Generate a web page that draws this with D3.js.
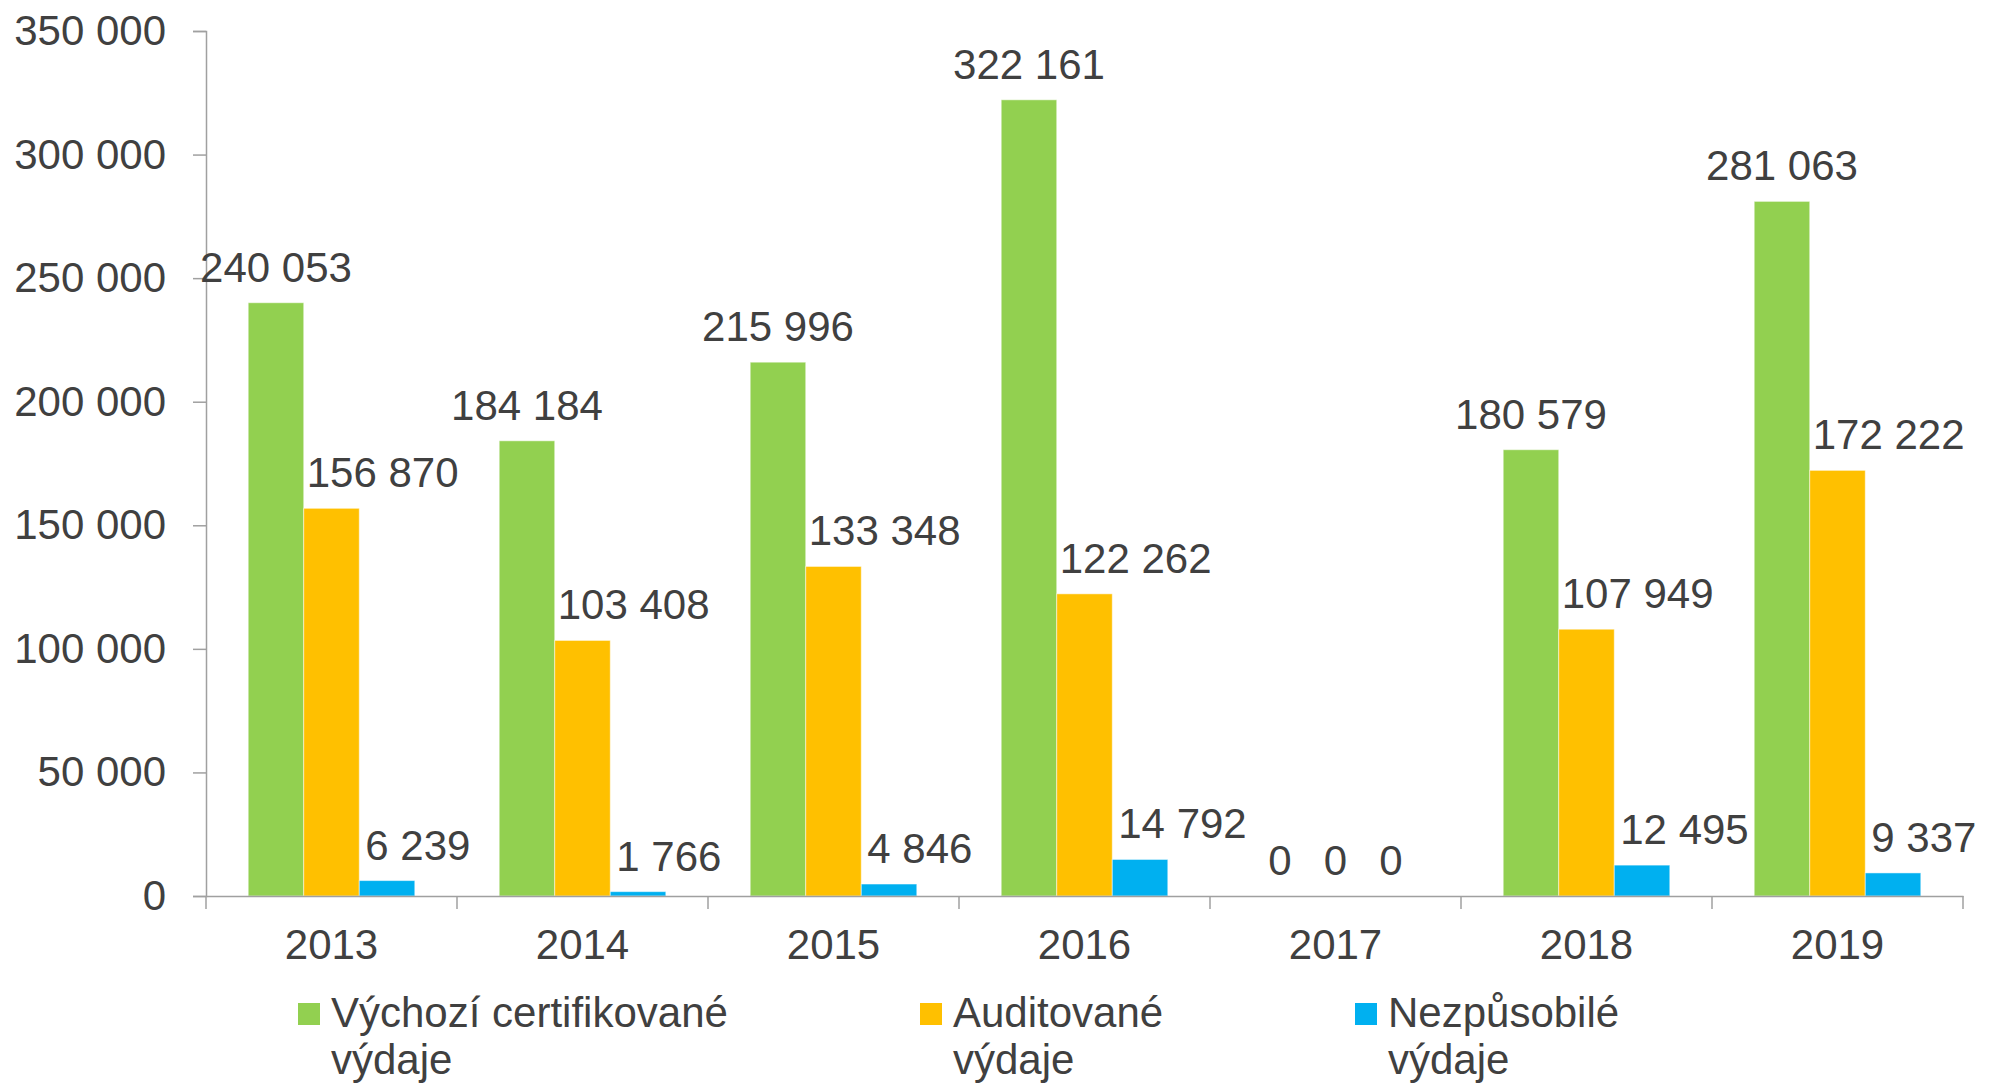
<!DOCTYPE html>
<html>
<head>
<meta charset="utf-8">
<script src="https://cdn.jsdelivr.net/npm/d3@7"></script>
<style>
  html, body { margin: 0; padding: 0; background: #ffffff; }
  svg { display: block; font-family: "Liberation Sans", Arial, sans-serif; }
</style>
</head>
<body>
<svg id="chart" width="2004" height="1084"></svg>
<script>
// ---- data ----
const years = ["2013", "2014", "2015", "2016", "2017", "2018", "2019"];
const seriesNames = ["Výchozí certifikované výdaje", "Auditované výdaje", "Nezpůsobilé výdaje"];
const certified = [240053, 184184, 215996, 322161, 0, 180579, 281063];
const audited   = [156870, 103408, 133348, 122262, 0, 107949, 172222];
const ineligible = [6239, 1766, 4846, 14792, 0, 12495, 9337];
const yTicks = [0, 50000, 100000, 150000, 200000, 250000, 300000, 350000];

// ---- style ----
const colors = ["#92D050", "#FFC000", "#00B0F0"];
const textColor = "#404040";
const axisColor = "#A0A0A0";
const fontSize = 42;

const seriesValues = [certified, audited, ineligible];
const svg = d3.select("#chart");

const x0 = d3.scaleBand().domain(years).range([206, 1963]).paddingInner(0).paddingOuter(0);
const x1 = d3.scaleBand().domain(d3.range(seriesNames.length)).range([0, x0.bandwidth()]).paddingInner(0).paddingOuter(0.76);
const y = d3.scaleLinear().domain([0, 350000]).range([896, 31]);

const locale = d3.formatLocale({ decimal: ",", thousands: "\u00a0", grouping: [3], currency: ["", ""] });
const fmt = locale.format(",d");

// ---- bars ----
const rows = [];
years.forEach((yr, i) => {
  seriesValues.forEach((vals, s) => rows.push({ year: yr, s, v: vals[i] }));
});

svg.append("g").selectAll("rect").data(rows.filter(d => d.v > 0)).join("rect")
  .attr("x", d => x0(d.year) + x1(d.s))
  .attr("y", d => y(d.v))
  .attr("width", x1.bandwidth())
  .attr("height", d => y(0) - y(d.v))
  .attr("fill", d => colors[d.s])
  .attr("stroke", "rgba(255,255,255,0.5)")
  .attr("stroke-width", 1);

// ---- axes ----
const yAxis = d3.axisLeft(y).tickValues(yTicks).tickFormat(fmt).tickSize(13).tickPadding(27);
const gy = svg.append("g").attr("transform", "translate(206,0)").call(yAxis);
gy.select(".domain").attr("stroke", axisColor).attr("stroke-width", 1.5);
gy.selectAll(".tick line").attr("stroke", axisColor).attr("stroke-width", 1.5);
gy.selectAll(".tick text").attr("fill", textColor).attr("font-size", fontSize)
  .attr("font-family", "Liberation Sans, Arial, sans-serif");

const xAxis = d3.axisBottom(x0).tickSize(0).tickPadding(0);
const gx = svg.append("g").attr("transform", "translate(0," + y(0) + ")").call(xAxis);
gx.select(".domain").attr("stroke", axisColor).attr("stroke-width", 1.5);
gx.selectAll(".tick text").attr("fill", textColor).attr("font-size", fontSize)
  .attr("font-family", "Liberation Sans, Arial, sans-serif")
  .attr("dy", null).attr("y", 63);
// category boundary ticks
const bounds = years.map(d => x0(d)).concat([x0(years[years.length - 1]) + x0.bandwidth()]);
gx.append("g").selectAll("line").data(bounds).join("line")
  .attr("x1", d => d).attr("x2", d => d).attr("y1", 0).attr("y2", 13)
  .attr("stroke", axisColor).attr("stroke-width", 1.5);

// ---- value labels ----
const labelPad = [0, 3, 6];
svg.append("g").selectAll("text").data(rows).join("text")
  .attr("x", d => {
    const bx = x0(d.year) + x1(d.s);
    if (d.s === 0 || d.v === 0) return bx + x1.bandwidth() / 2;
    return bx + labelPad[d.s];
  })
  .attr("y", d => y(d.v) - 21)
  .attr("text-anchor", d => (d.s === 0 || d.v === 0) ? "middle" : "start")
  .attr("fill", textColor)
  .attr("font-size", fontSize)
  .text(d => fmt(d.v));

// ---- legend ----
const legendX = [298, 920, 1355];
const legend = svg.append("g").selectAll("g").data(seriesNames).join("g")
  .attr("transform", (d, i) => "translate(" + legendX[i] + ",1003)");
legend.append("rect").attr("width", 22).attr("height", 22).attr("fill", (d, i) => colors[i]);
const lt = legend.append("text").attr("fill", textColor).attr("font-size", fontSize);
lt.each(function (d) {
  const k = d.lastIndexOf(" ");
  const lines = [d.slice(0, k), d.slice(k + 1)];
  d3.select(this).selectAll("tspan").data(lines).join("tspan")
    .attr("x", 33).attr("y", (l, j) => 24 + j * 47).text(l => l);
});
</script>
</body>
</html>
